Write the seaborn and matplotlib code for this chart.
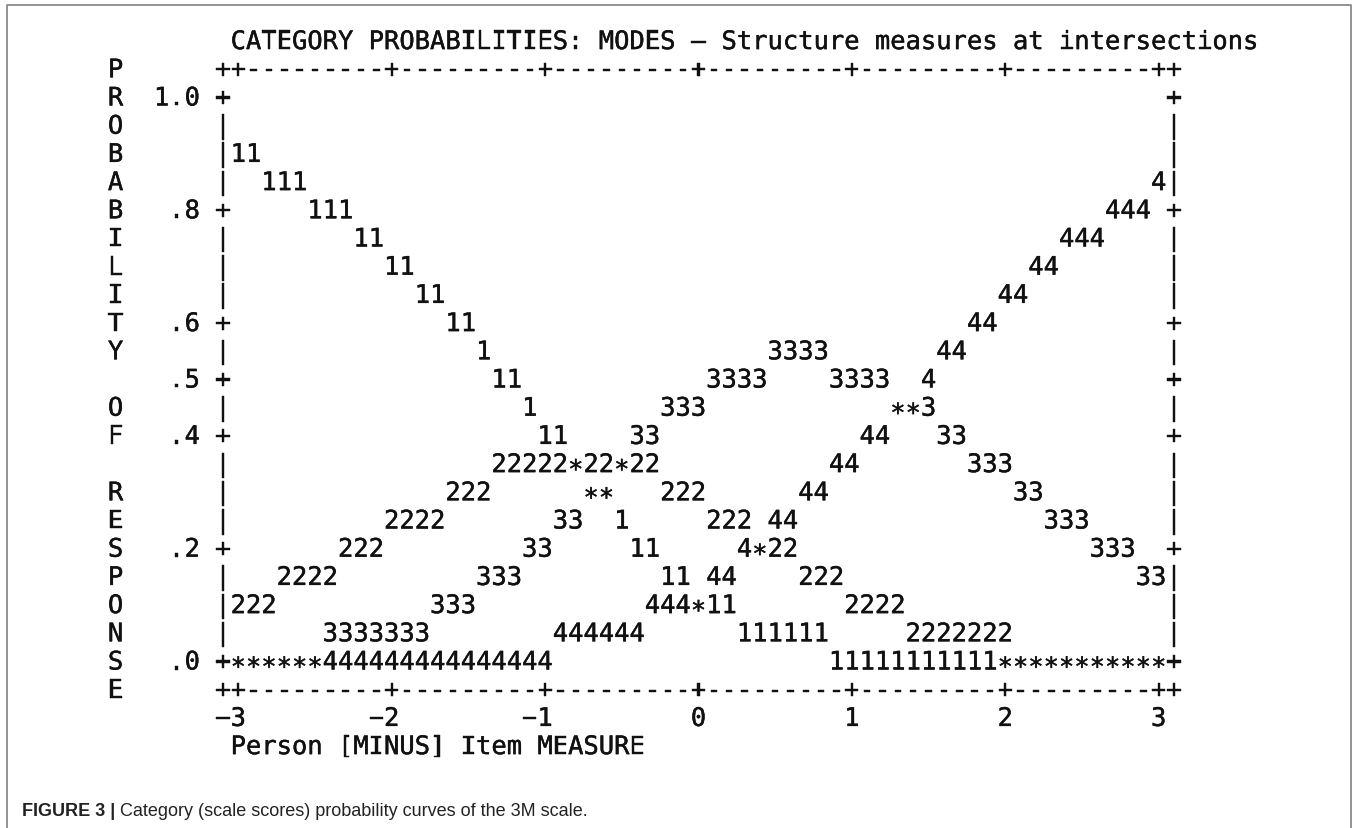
import numpy as np
import pandas as pd
import matplotlib
matplotlib.use("Agg")
import matplotlib.pyplot as plt
import matplotlib.patheffects as pe
import seaborn as sns
from matplotlib import font_manager
from matplotlib.transforms import offset_copy

# ---- chart text / data ----
title = "CATEGORY PROBABILITIES: MODES \u2013 Structure measures at intersections"
side_label = "PROBABILITY OF RESPONSE"
prob_labels = ["", "1.0", "", "", "", ".8", "", "", "", ".6", "", ".5", "",
               ".4", "", "", "", ".2", "", "", "", ".0", ""]
x_ticks = [-3, -2, -1, 0, 1, 2, 3]
x_tick_labels = ["\u22123", "\u22122", "\u22121", "0", "1", "2", "3"]
x_label = "Person [MINUS] Item MEASURE"
caption_bold = "FIGURE 3 |"
caption_text = "Category (scale scores) probability curves of the 3M scale."

# plot area rows, top (p = 1.05) to bottom (p = -0.05), one character per 0.1 logit
S = " "
plot_rows = [
    "++" + "---------+" * 5 + "---------++",
    "+" + S * 61 + "+",
    "|" + S * 61 + "|",
    "|11" + S * 59 + "|",
    "|  111" + S * 55 + "4|",
    "+" + S * 5 + "111" + S * 49 + "444" + S + "+",
    "|" + S * 8 + "11" + S * 44 + "444" + S * 4 + "|",
    "|" + S * 10 + "11" + S * 40 + "44" + S * 7 + "|",
    "|" + S * 12 + "11" + S * 36 + "44" + S * 9 + "|",
    "+" + S * 14 + "11" + S * 32 + "44" + S * 11 + "+",
    "|" + S * 16 + "1" + S * 18 + "3333" + S * 7 + "44" + S * 13 + "|",
    "+" + S * 17 + "11" + S * 12 + "3333" + S * 4 + "3333" + S * 2 + "4" + S * 15 + "+",
    "|" + S * 19 + "1" + S * 8 + "333" + S * 12 + "**3" + S * 15 + "|",
    "+" + S * 20 + "11" + S * 4 + "33" + S * 13 + "44" + S * 3 + "33" + S * 13 + "+",
    "|" + S * 17 + "22222*22*22" + S * 11 + "44" + S * 7 + "333" + S * 10 + "|",
    "|" + S * 14 + "222" + S * 6 + "**" + S * 3 + "222" + S * 6 + "44" + S * 12 + "33" + S * 8 + "|",
    "|" + S * 10 + "2222" + S * 7 + "33" + S * 2 + "1" + S * 5 + "222" + S + "44" + S * 16 + "333" + S * 5 + "|",
    "+" + S * 7 + "222" + S * 9 + "33" + S * 5 + "11" + S * 5 + "4*22" + S * 19 + "333" + S * 2 + "+",
    "|" + S * 3 + "2222" + S * 9 + "333" + S * 9 + "11" + S + "44" + S * 4 + "222" + S * 19 + "33|",
    "|222" + S * 10 + "333" + S * 11 + "444*11" + S * 7 + "2222" + S * 17 + "|",
    "|" + S * 6 + "3333333" + S * 8 + "444444" + S * 6 + "111111" + S * 5 + "2222222" + S * 10 + "|",
    "+" + "*" * 6 + "4" * 15 + S * 18 + "1" * 11 + "*" * 11 + "+",
    "++" + "---------+" * 5 + "---------++",
]
assert all(len(r) == 63 for r in plot_rows)

# ---- style ----
sns.set_theme(style="white")
plt.rcParams["font.family"] = ["DejaVu Sans Mono"]

W, H = 1357, 829
fig = plt.figure(figsize=(W / 100, H / 100), dpi=100)
ax = fig.add_axes([0, 0, 1, 1])
ax.set_xlim(-4.5535, 4.2927)
ax.set_ylim(-0.2975, 1.1723)
ax.set_axis_off()
sns.despine(ax=ax, left=True, bottom=True)

ink = "#111111"
mono = dict(family="DejaVu Sans Mono", fontsize=18.35, color=ink,
            path_effects=[pe.withStroke(linewidth=0.3, foreground=ink)])
base_tr = offset_copy(ax.transData, fig=fig, y=-9.3, units="dots")
star_tr = offset_copy(ax.transData, fig=fig, y=-15.0, units="dots")


def col_to_x(c):
    # column 31 is measure 0, ten columns per logit
    return (c - 31) / 10.0


def row_to_p(r):
    return 1.05 - 0.05 * r


def put(r, c0, text):
    for k, ch in enumerate(text):
        if ch == " ":
            continue
        tr = star_tr if ch == "*" else base_tr
        ax.text(col_to_x(c0 + k), row_to_p(r), ch, ha="center",
                va="baseline", transform=tr, **mono)


# title
put(-1, 1, title)

# plot grid
for r, row in enumerate(plot_rows):
    put(r, 0, row)

# left labels
for r, letter in enumerate(side_label):
    put(r, -7, letter)
for r, lab in enumerate(prob_labels):
    if lab:
        put(r, -1 - len(lab), lab)

# x tick labels: last character sits under the tick
for v, lab in zip(x_ticks, x_tick_labels):
    c = int(round(31 + 10 * v))
    put(23, c - len(lab) + 1, lab)

put(24, 1, x_label)

# caption
names = {f.name for f in font_manager.fontManager.ttflist}
cap_family = "Liberation Sans Narrow" if "Liberation Sans Narrow" in names else "Liberation Sans"
cy = 1 - 812 / H
t1 = fig.text(22 / W, cy, caption_bold, family=cap_family, weight="bold",
              fontsize=13, color="#222222", va="center")
fig.canvas.draw()
bb = t1.get_window_extent()
fig.text((bb.x1 + 5) / W, cy, caption_text, family=cap_family,
         fontsize=13, color="#222222", va="center")

# frame around figure (open at the bottom)
fx0, fx1, fy = 7 / W, 1351 / W, 1 - 6 / H
ax.plot([fx0, fx0, fx1, fx1], [0, fy, fy, 0], transform=fig.transFigure,
        color="#8a8a8a", lw=1.3, clip_on=False)

fig.savefig("out.png", dpi=100)
